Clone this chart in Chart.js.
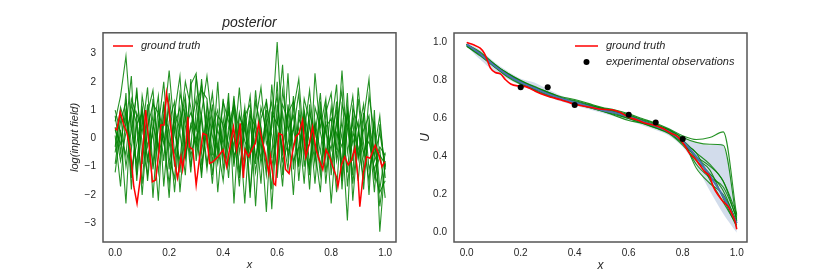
<!DOCTYPE html>
<html>
<head>
<meta charset="utf-8">
<script src="https://cdn.jsdelivr.net/npm/chart.js@4"></script>
<style>
  body { margin: 0; background: #fff; }
  #wrap { display: flex; width: 830px; height: 277px; }
  canvas { display: block; }
</style>
</head>
<body>
<div id="wrap">
  <canvas id="left" width="415" height="277"></canvas>
  <canvas id="right" width="415" height="277"></canvas>
</div>
<script>
// tick labels
const xTicks = [0, 0.2, 0.4, 0.6, 0.8, 1.0];
const leftYTicks = [-3, -2, -1, 0, 1, 2, 3];
const rightYTicks = [0, 0.2, 0.4, 0.6, 0.8, 1.0];

// ---- left panel: posterior samples of log(input field) ----
const sampleX = Array.from({length: 51}, (_, i) => +(i * 0.02).toFixed(2));
const sample1 = [0.6,1.5,2.9,0.4,-0.9,1.1,-0.3,0.8,-1.2,0.5,2.4,0.2,-0.8,1.3,-0.4,2.2,0.6,-1.1,0.7,-0.6,1.4,-0.9,0.2,-1.7,1.0,-0.5,0.6,1.8,-0.2,0.4,3.4,0.1,-1.1,1.5,-0.5,0.8,-1.3,2.3,0.2,-0.7,1.1,-0.4,2.4,-0.5,0.6,-1.5,0.7,2.1,-0.8,-0.3,-0.6];
const sample2 = [-1.2,0.3,-2.3,1.2,0.5,-1.6,0.9,1.7,-0.6,0.2,-2.1,1.0,0.3,2.0,1.1,-0.4,2.1,-0.2,1.2,-1.9,0.3,0.9,-0.8,0.4,-2.3,0.6,-1.2,0.2,-2.6,0.9,0.5,2.6,-0.7,0.3,1.6,-1.0,0.5,-0.9,1.3,-1.6,0.4,1.9,-1.8,0.9,-0.8,1.4,-0.6,0.3,-1.9,0.5,-1.1];
const sample3 = [0.8,-0.5,1.6,-1.8,0.9,0.2,1.8,-1.1,0.4,2.0,-0.7,-1.4,0.8,-0.3,1.9,2.3,-0.5,0.9,-1.3,0.6,-0.2,1.6,-2.3,0.8,0.3,1.5,-0.9,1.1,0.3,-1.8,1.2,-0.6,2.3,-1.1,0.7,0.2,1.7,-0.4,-1.9,0.9,1.6,-0.8,0.2,-2.9,1.1,0.4,-1.0,1.5,0.2,-2.4,-0.9];
const sample4 = [-0.3,1.1,0.4,2.2,-1.5,0.7,-0.8,0.3,1.5,-1.7,0.6,1.3,-1.9,0.4,0.9,0.3,1.7,1.4,-0.6,2.0,-1.1,0.2,1.0,-1.4,0.7,-2.1,1.3,0.4,-1.0,1.9,-0.3,1.2,0.6,-2.0,1.0,-0.6,0.9,0.1,1.6,-1.2,0.3,-1.9,1.2,0.5,-1.3,1.8,-0.2,-1.5,0.6,-1.8,-0.5];
const sample5 = [0.1,-1.7,0.9,-0.4,1.8,-0.9,1.2,-2.1,0.6,-0.2,1.1,-1.0,1.6,0.7,-1.2,1.0,1.9,0.3,-1.6,0.8,0.5,-1.4,1.3,0.2,-1.0,0.8,0.4,-1.6,1.4,-0.7,2.0,-1.3,0.9,1.3,-1.5,0.6,-1.8,1.1,0.4,1.4,-1.3,0.7,-0.9,1.6,-2.2,0.2,1.2,-1.1,-0.4,0.8,-1.4];
const sample6 = [1.0,0.2,-0.6,1.4,0.8,-2.0,0.4,1.2,0.9,-0.8,1.6,-0.5,0.2,-1.3,2.1,-0.8,0.9,2.2,0.5,-0.4,1.3,0.6,-0.3,1.8,-0.6,1.0,-2.4,0.7,1.3,0.1,-1.1,1.7,0.3,0.8,-1.0,1.4,0.6,-1.6,0.8,0.2,-0.4,1.3,-1.2,0.3,1.5,-0.7,0.9,-2.0,1.0,-3.3,-0.8];
const sample7 = [-0.9,0.6,1.3,-1.1,-0.2,1.0,-1.5,0.5,-0.3,1.3,-1.1,0.9,2.2,-0.6,0.4,1.4,-0.9,0.3,1.6,-0.3,-1.5,0.4,1.2,-0.5,0.8,1.2,-0.7,0.3,-1.3,0.6,1.5,-0.8,-0.2,1.0,2.1,-0.3,-1.1,0.6,-0.5,1.2,-0.9,0.5,1.7,-1.7,0.2,-0.3,-1.4,0.4,-1.2,-1.9,-1.5];
const sample8 = [0.4,-0.8,0.2,0.9,-1.3,1.5,0.3,-0.9,1.1,0.0,-1.6,0.4,1.1,-0.7,0.5,-0.2,0.8,-0.9,0.4,1.0,-0.7,1.1,-1.0,0.9,-0.1,-0.6,0.6,-0.9,0.5,1.3,-1.4,0.9,-0.5,0.4,-0.9,1.0,-0.2,0.5,-1.3,0.4,0.7,-0.6,0.6,-1.2,0.9,-0.7,0.3,0.8,-1.4,-0.6,-0.9];
const sample9 = [-0.5,0.9,-1.0,0.3,1.6,-0.2,-1.3,1.4,-0.4,0.8,0.3,-1.9,0.5,1.5,-1.0,0.6,-1.4,1.2,0.1,-0.9,0.7,-0.3,1.5,-1.2,0.4,-0.8,1.7,-0.4,0.6,-1.0,0.2,-1.7,1.2,-0.3,0.4,-1.6,1.2,-0.7,0.9,-0.5,0.1,1.0,-1.5,1.1,-0.2,0.6,-1.8,0.6,-0.6,0.2,-1.0];
const sample10 = [0.3,-0.2,1.0,-1.4,0.5,0.9,-0.7,0.2,-2.2,1.2,-0.3,0.7,-1.2,0.9,-0.6,0.1,-1.2,0.6,-0.8,0.3,-0.5,1.3,-0.6,-0.2,1.1,-1.9,0.2,-0.7,1.0,-2.5,0.7,-0.4,1.0,-0.8,-0.3,0.9,-0.9,0.4,-1.0,0.6,-2.3,0.2,-0.3,0.9,-1.6,0.2,-0.5,-0.1,-1.1,-0.4,-2.1];
const leftSamples = [sample1, sample2, sample3, sample4, sample5, sample6, sample7, sample8, sample9, sample10];

const truthX = [0,0.006,0.019,0.031,0.044,0.056,0.069,0.081,0.094,0.106,0.113,0.125,0.138,0.15,0.163,0.169,0.181,0.19,0.2,0.213,0.225,0.231,0.244,0.25,0.263,0.269,0.275,0.288,0.3,0.313,0.325,0.338,0.35,0.363,0.381,0.4,0.413,0.419,0.438,0.45,0.463,0.475,0.481,0.494,0.506,0.519,0.531,0.544,0.556,0.569,0.575,0.588,0.594,0.606,0.619,0.631,0.644,0.656,0.669,0.681,0.694,0.706,0.719,0.731,0.744,0.756,0.769,0.781,0.794,0.806,0.819,0.825,0.838,0.85,0.863,0.875,0.888,0.9,0.906,0.919,0.931,0.944,0.956,0.963,0.975,0.988,0.998];
const truthY = [0.35,0.3,0.94,0.5,0.18,-0.4,-1.7,-2.3,-1.35,0.06,1.0,-0.18,-1.53,-1.47,-0.4,0.47,0.47,1.6,1.0,-0.3,-1.1,-1.4,-0.65,-1.1,-0.18,0.76,-0.3,-0.4,-1.65,-0.65,0.18,0.12,-0.88,-0.82,-0.65,-0.4,-1.0,-0.65,0.41,-0.4,0.53,-1.4,-0.4,-0.65,-0.4,-0.18,0.53,-0.06,-0.53,-1.24,-0.65,-1.6,-1.65,0.18,0.12,-1.1,-1.24,-0.53,0.06,0.18,0.65,-0.65,-0.18,0.41,-0.4,-0.76,-1.1,-0.4,-0.65,-1.0,-1.35,-1.7,-0.94,-0.65,-0.94,-0.76,-0.35,-1.47,-2.41,-1.24,-0.65,-0.7,-0.4,-0.24,-0.53,-1.0,-0.82];

// ---- right panel: U(x) ----
const uGrid = [0,0.05,0.1,0.15,0.2,0.25,0.3,0.35,0.4,0.45,0.5,0.55,0.6,0.65,0.7,0.75,0.8,0.85,0.9,0.95,1.0];
const uMean  = [0.99,0.94,0.88,0.83,0.79,0.76,0.73,0.705,0.685,0.665,0.645,0.63,0.61,0.585,0.56,0.53,0.48,0.40,0.30,0.19,0.05];
const uUpper = [1.0,0.96,0.9,0.85,0.81,0.79,0.755,0.72,0.70,0.68,0.66,0.645,0.625,0.60,0.575,0.55,0.51,0.47,0.46,0.46,0.10];
const uLower = [0.98,0.91,0.85,0.81,0.775,0.745,0.715,0.69,0.67,0.65,0.63,0.61,0.59,0.565,0.54,0.51,0.45,0.35,0.22,0.10,0.0];
const uSample1 = [0.99,0.945,0.885,0.84,0.80,0.77,0.74,0.715,0.70,0.68,0.66,0.645,0.625,0.60,0.575,0.545,0.51,0.49,0.50,0.53,0.09];
const uSample2 = [0.99,0.94,0.88,0.835,0.795,0.765,0.735,0.71,0.695,0.675,0.655,0.64,0.62,0.595,0.57,0.54,0.50,0.475,0.465,0.46,0.06];
const uSample3 = [0.98,0.93,0.875,0.825,0.785,0.75,0.72,0.70,0.68,0.66,0.64,0.62,0.60,0.58,0.555,0.525,0.47,0.40,0.35,0.27,0.07];
const uSample4 = [0.99,0.94,0.89,0.835,0.79,0.76,0.725,0.70,0.69,0.67,0.65,0.63,0.605,0.585,0.56,0.53,0.48,0.36,0.29,0.24,0.08];
const uSample5 = [0.985,0.935,0.875,0.82,0.78,0.755,0.73,0.705,0.68,0.66,0.64,0.615,0.59,0.575,0.55,0.52,0.46,0.38,0.31,0.22,0.05];
const uSample6 = [0.99,0.95,0.89,0.835,0.795,0.765,0.74,0.71,0.685,0.665,0.645,0.625,0.60,0.575,0.55,0.525,0.47,0.42,0.28,0.16,0.04];
const uSample7 = [0.98,0.935,0.88,0.83,0.79,0.755,0.725,0.70,0.68,0.665,0.65,0.635,0.61,0.585,0.565,0.54,0.49,0.34,0.26,0.20,0.06];
const uSample8 = [0.99,0.94,0.885,0.84,0.80,0.765,0.735,0.705,0.69,0.67,0.65,0.63,0.615,0.59,0.56,0.535,0.48,0.39,0.33,0.18,0.03];
const uSample9 = [0.985,0.94,0.88,0.83,0.785,0.76,0.73,0.705,0.685,0.67,0.655,0.635,0.615,0.59,0.565,0.535,0.485,0.42,0.36,0.27,0.10];
const rightSamples = [uSample1, uSample2, uSample3, uSample4, uSample5, uSample6, uSample7, uSample8, uSample9];

const uTruthX = [0,0.025,0.05,0.065,0.078,0.088,0.106,0.125,0.144,0.163,0.188,0.219,0.244,0.275,0.313,0.35,0.388,0.425,0.463,0.5,0.538,0.569,0.6,0.631,0.663,0.694,0.725,0.756,0.781,0.806,0.825,0.844,0.863,0.881,0.9,0.913,0.931,0.95,0.969,0.981,0.994,1.0];
const uTruthY = [1.0,0.988,0.97,0.944,0.9,0.865,0.842,0.835,0.804,0.782,0.772,0.768,0.751,0.73,0.712,0.698,0.68,0.667,0.658,0.649,0.646,0.632,0.607,0.593,0.575,0.565,0.549,0.523,0.505,0.461,0.418,0.391,0.356,0.321,0.295,0.242,0.198,0.163,0.137,0.102,0.058,0.018];
const obsX = [0.2, 0.3, 0.4, 0.6, 0.7, 0.8];
const obsU = [0.765, 0.765, 0.672, 0.62, 0.58, 0.493];

const FONT = '"Liberation Sans", Arial, sans-serif';
const TEXT = '#262626';
const pts = (xs, ys) => ys.map((y, i) => ({x: xs[i], y}));

const frameAndLegend = {
  id: 'frameAndLegend',
  afterDraw(chart, args, opts) {
    const {ctx, chartArea: a} = chart;
    ctx.save();
    ctx.strokeStyle = '#555';
    ctx.lineWidth = 1.5;
    ctx.strokeRect(a.left, a.top, a.right - a.left, a.bottom - a.top);
    ctx.font = 'italic 11px ' + FONT;
    ctx.textBaseline = 'middle';
    let y = opts.y;
    chart.data.datasets.filter(d => d.legendLabel).forEach(d => {
      if (d.showLine === false) {
        ctx.fillStyle = d.pointBackgroundColor;
        ctx.beginPath();
        ctx.arc(opts.x + opts.len / 2, y, 3, 0, Math.PI * 2);
        ctx.fill();
      } else {
        ctx.strokeStyle = d.borderColor;
        ctx.lineWidth = 1.5;
        ctx.beginPath();
        ctx.moveTo(opts.x, y);
        ctx.lineTo(opts.x + opts.len, y);
        ctx.stroke();
      }
      ctx.fillStyle = TEXT;
      ctx.fillText(d.legendLabel, opts.x + opts.len + 8, y);
      y += opts.gap;
    });
    ctx.restore();
  }
};

function axis(min, max, ticks, fmt, title, titleSize, titlePad, size, tickPad) {
  return {
    type: 'linear', min, max,
    grid: {display: false, drawTicks: false},
    border: {display: false},
    afterBuildTicks: s => { s.ticks = ticks.map(v => ({value: v})); },
    afterFit: s => { if (s.isHorizontal()) s.height = size; else s.width = size; },
    ticks: {autoSkip: false, maxRotation: 0, padding: tickPad, color: TEXT,
            font: {family: FONT, size: 10}, callback: fmt},
    title: {display: true, text: title, color: TEXT, padding: titlePad,
            font: {family: FONT, size: titleSize, style: 'italic'}}
  };
}
const fmt1 = v => v.toFixed(1);
const fmtInt = v => v < 0 ? '\u2212' + Math.abs(v) : String(v);

const baseOpts = {
  responsive: false, animation: false, events: [],
  elements: {point: {radius: 0}},
};

new Chart(document.getElementById('left'), {
  type: 'line',
  data: {
    datasets: [
      ...leftSamples.map(s => ({
        data: pts(sampleX, s), borderColor: 'rgba(0,128,0,0.85)', borderWidth: 1.1, order: 2
      })),
      {data: pts(truthX, truthY), borderColor: '#ff0000', borderWidth: 1.5, order: 1, legendLabel: 'ground truth'}
    ]
  },
  options: {
    ...baseOpts,
    layout: {padding: {left: 63, right: 19, top: 0, bottom: 1}},
    scales: {
      x: axis(-0.045, 1.04, xTicks, fmt1, 'x', 11, {top: 4, bottom: 4}, 34, 5),
      y: axis(-3.66, 3.73, leftYTicks, fmtInt, 'log(input field)', 11, {top: 5, bottom: 0}, 40, 7)
    },
    plugins: {
      legend: {display: false}, tooltip: {enabled: false},
      title: {display: true, text: 'posterior', fullSize: false, color: TEXT,
              font: {family: FONT, size: 14, style: 'italic', weight: 'normal'},
              padding: {top: 15, bottom: 1}},
      frameAndLegend: {x: 113, y: 46, len: 20, gap: 15.5}
    }
  },
  plugins: [frameAndLegend]
});

new Chart(document.getElementById('right'), {
  type: 'line',
  data: {
    datasets: [
      {data: pts(uGrid, uUpper), borderWidth: 0, fill: '+1', backgroundColor: 'rgba(76,114,176,0.25)', tension: 0.3, order: 5},
      {data: pts(uGrid, uLower), borderWidth: 0, fill: false, tension: 0.3, order: 5},
      ...rightSamples.map(s => ({
        data: pts(uGrid, s), borderColor: 'rgba(0,128,0,0.85)', borderWidth: 1.1,
        cubicInterpolationMode: 'monotone', order: 3
      })),
      {data: pts(uGrid, uMean), borderColor: '#4c72b0', borderWidth: 2, cubicInterpolationMode: 'monotone', order: 2},
      {data: pts(uTruthX, uTruthY), borderColor: '#ff0000', borderWidth: 1.6, cubicInterpolationMode: 'monotone', order: 1, legendLabel: 'ground truth'},
      {data: pts(obsX, obsU), showLine: false, pointRadius: 3, pointBackgroundColor: '#000', pointBorderWidth: 0, order: 0, legendLabel: 'experimental observations'}
    ]
  },
  options: {
    ...baseOpts,
    layout: {padding: {left: 2, right: 83, top: 33, bottom: 1}},
    scales: {
      x: axis(-0.047, 1.038, xTicks, fmt1, 'x', 12, {top: 4, bottom: 3}, 34, 5),
      y: axis(-0.049, 1.05, rightYTicks, fmt1, 'U', 12, {top: 1, bottom: 0}, 37, 7)
    },
    plugins: {
      legend: {display: false}, tooltip: {enabled: false},
      frameAndLegend: {x: 160, y: 46, len: 23, gap: 16}
    }
  },
  plugins: [frameAndLegend]
});
</script>
</body>
</html>
